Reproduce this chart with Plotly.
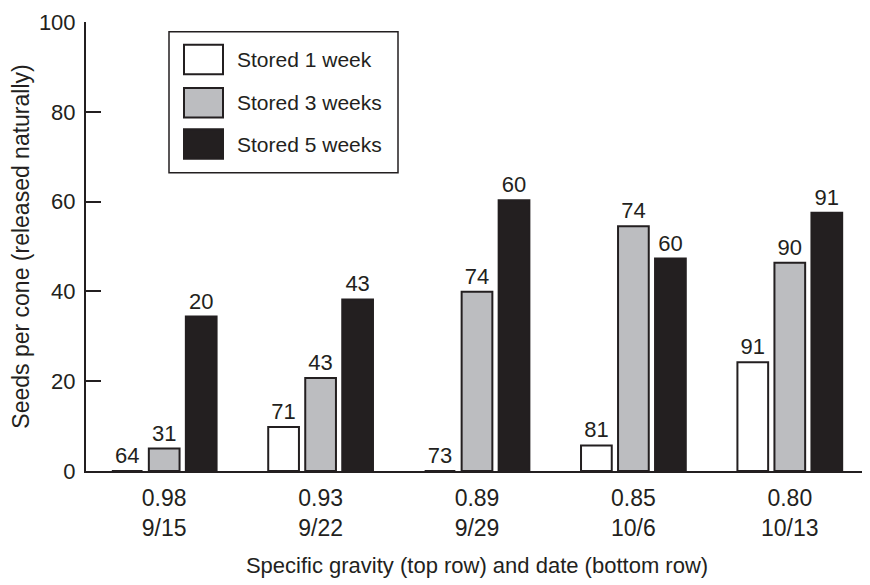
import plotly.graph_objects as go

gravity = ["0.98", "0.93", "0.89", "0.85", "0.80"]
dates = ["9/15", "9/22", "9/29", "10/6", "10/13"]
series_names = ["Stored 1 week", "Stored 3 weeks", "Stored 5 weeks"]
stored_1wk = [0, 9.8, 0, 5.7, 24.2]
stored_3wk = [5.0, 20.7, 39.9, 54.5, 46.4]
stored_5wk = [34.4, 38.2, 60.3, 47.3, 57.5]
labels_1wk = ["64", "71", "73", "81", "91"]
labels_3wk = ["31", "43", "74", "74", "90"]
labels_5wk = ["20", "43", "60", "60", "91"]
y_ticks = [0, 20, 40, 60, 80, 100]

INK = "#231f20"
fills = ["#ffffff", "#bcbdc0", INK]
FONT = "Liberation Sans, Arial, sans-serif"

cats = [f"{g}<br>{d}" for g, d in zip(gravity, dates)]
values = [stored_1wk, stored_3wk, stored_5wk]
texts = [labels_1wk, labels_3wk, labels_5wk]

# page has an 8px body margin; figure occupies 8..870 x 8..585
OFF = 8
W, H = 870 - OFF, 585 - OFF
ML, MR, MT, MB = 86 - OFF, 2, 15 - OFF, 585 - 471
PW, PH = W - ML - MR, H - MT - MB

fig = go.Figure()
for name, vals, txt, col in zip(series_names, values, texts, fills):
    fig.add_trace(go.Bar(
        x=cats, y=vals, name=name, text=txt, textposition="outside",
        textfont=dict(size=22, color=INK, family=FONT),
        marker=dict(color=col, line=dict(color=INK, width=2)),
        cliponaxis=False, showlegend=False,
    ))

def px_x(p):
    return (p - OFF - ML) / PW

def px_y(p):
    return (MT + PH - (p - OFF)) / PH

shapes = [dict(type="rect", xref="paper", yref="paper",
               x0=px_x(169), x1=px_x(398), y0=px_y(168), y1=px_y(25),
               line=dict(color=INK, width=1.5), fillcolor="white", layer="above")]
annotations = []
row_tops = [38, 82, 124]
for name, col, top in zip(series_names, fills, row_tops):
    shapes.append(dict(type="rect", xref="paper", yref="paper",
                       x0=px_x(184), x1=px_x(223), y0=px_y(top + 30), y1=px_y(top),
                       line=dict(color=INK, width=2), fillcolor=col, layer="above"))
    annotations.append(dict(xref="paper", yref="paper", x=px_x(235), y=px_y(top + 15),
                            text=name, showarrow=False, xanchor="left", yanchor="middle",
                            font=dict(size=21, color=INK, family=FONT)))

fig.update_layout(
    width=W, height=H,
    margin=dict(l=ML, r=MR, t=MT, b=MB),
    paper_bgcolor="white", plot_bgcolor="white",
    barmode="group", bargap=0.29, bargroupgap=0.17,
    font=dict(family=FONT, size=22, color=INK),
    shapes=shapes, annotations=annotations,
    xaxis=dict(
        showline=True, linecolor=INK, linewidth=2, ticks="",
        tickfont=dict(size=23, color=INK), ticklabelstandoff=5,
        title=dict(text="Specific gravity (top row) and date (bottom row)",
                   font=dict(size=22, color=INK), standoff=18),
        showgrid=False, zeroline=False,
    ),
    yaxis=dict(
        range=[0, 100], tickvals=y_ticks, showline=True, linecolor=INK, linewidth=2,
        ticks="inside", ticklen=15, tickwidth=2, tickcolor=INK,
        tickfont=dict(size=22, color=INK), ticklabelstandoff=4,
        ticklabeloverflow="allow",
        title=dict(text="Seeds per cone (released naturally)",
                   font=dict(size=23, color=INK), standoff=8),
        showgrid=False, zeroline=False,
    ),
)

fig.write_html("out.html")
